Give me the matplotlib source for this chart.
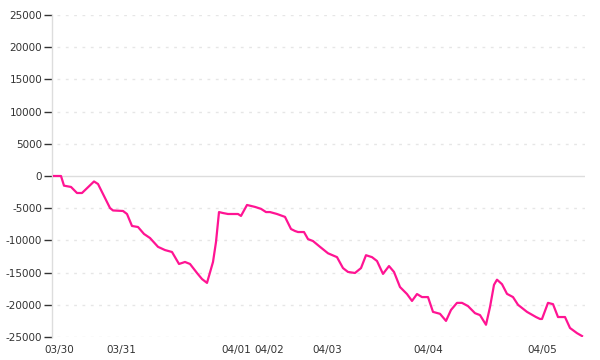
import matplotlib
matplotlib.use("Agg")
import matplotlib.pyplot as plt

plt.rcParams["axes.unicode_minus"] = False

# sample positions (steps) and values
steps = [0, 7, 10, 17, 23, 28, 40, 44, 56, 59, 69, 73, 78, 84, 90, 96, 104, 111,
         118, 125, 131, 136, 143, 148, 153, 159, 162, 165, 169, 174, 184, 187,
         193, 201, 207, 212, 216, 223, 231, 237, 241, 244, 250, 254, 259, 266,
         274, 283, 289, 294, 301, 307, 312, 318, 323, 329, 335, 340, 346, 353,
         358, 363, 368, 374, 379, 386, 392, 397, 403, 408, 414, 421, 426, 432,
         436, 440, 443, 448, 453, 459, 464, 473, 482, 486, 488, 494, 499, 504,
         511, 516, 523, 528]
values = [0, 0, -1500, -1700, -2640, -2640, -850, -1240, -4970, -5350, -5430,
          -5900, -7760, -7920, -9000, -9630, -11000, -11500, -11800, -13660,
          -13350, -13660, -15060, -16000, -16600, -13350, -10250, -5600, -5750,
          -5900, -5900, -6200, -4500, -4800, -5100, -5600, -5600, -5900, -6350,
          -8230, -8540, -8700, -8700, -9800, -10100, -11000, -12000, -12600,
          -14300, -14900, -15060, -14300, -12300, -12600, -13200, -15200,
          -13980, -14900, -17240, -18330, -19400, -18330, -18800, -18800,
          -21100, -21400, -22500, -20800, -19700, -19700, -20200, -21300,
          -21600, -23100, -20350, -16900, -16100, -16800, -18300, -18800,
          -20000, -21100, -21900, -22200, -22200, -19700, -19900, -21900,
          -21900, -23600, -24400, -24850]

day_steps = [5.5, 67.5, 182, 215, 273, 374, 488]
day_labels = ["03/30", "03/31", "04/01", "04/02", "04/03", "04/04", "04/05"]
y_ticks = [-25000, -20000, -15000, -10000, -5000, 0, 5000, 10000, 15000, 20000, 25000]

fig = plt.figure(figsize=(6, 3.6), dpi=100)
ax = fig.add_axes([52 / 600, 23 / 360, 533 / 600, 322 / 360])

# grid lines
for yt in y_ticks:
    if yt == 0:
        ax.axhline(yt, color="#dddddd", lw=1, zorder=1)
    else:
        ax.axhline(yt, xmin=0.01, color="#e6e6e6", lw=1, zorder=1,
                   dashes=(2, 4))

ax.plot(steps, values, color="#ff1493", lw=1.6, zorder=3)

ax.set_xlim(-2, 531)
ax.set_ylim(-25000, 25000)
ax.set_yticks(y_ticks)
ax.set_yticklabels([str(v) for v in y_ticks])
ax.set_xticks(day_steps)
ax.set_xticklabels(day_labels)

ax.tick_params(axis="y", length=6, width=1, color="#333333", labelsize=7.5,
               labelcolor="#333333", pad=1)
ax.tick_params(axis="x", length=0, labelsize=7.5, labelcolor="#333333", pad=6)

for s in ["top", "right", "bottom"]:
    ax.spines[s].set_visible(False)
ax.spines["left"].set_color("#dddddd")
ax.spines["left"].set_linewidth(1)

fig.savefig("out.png", dpi=100)
